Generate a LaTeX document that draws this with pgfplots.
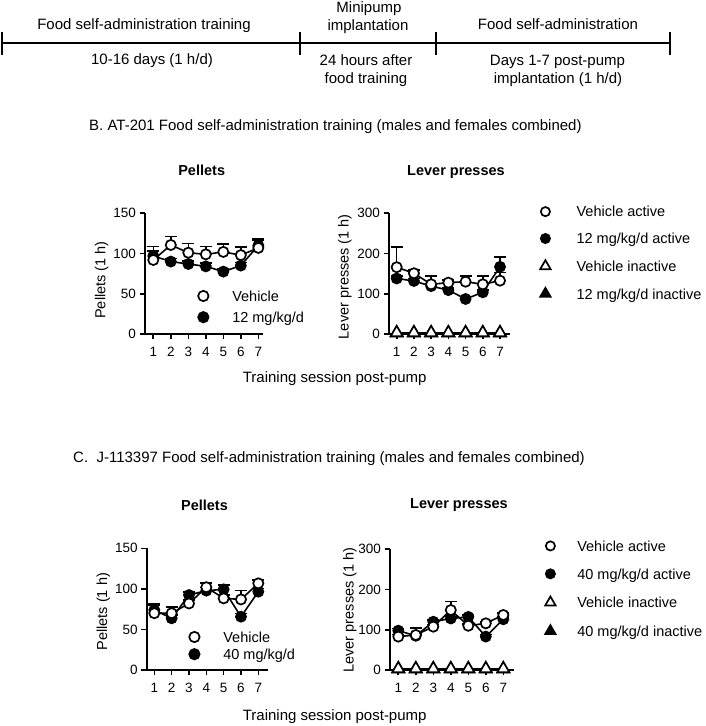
\documentclass[border=0pt]{standalone}
\usepackage{fontspec}
\setmainfont{Liberation Sans}
\usepackage{pgfplots}
\pgfplotsset{compat=1.18}
\newcommand{\fs}[1]{\fontsize{#1}{#1}\selectfont}
\pgfplotsset{
  panel/.style={
    scale only axis, clip=false,
    axis lines*=left, axis line style={line width=1.8pt,-},
    xtick={1,2,3,4,5,6,7},
    tick align=outside, major tick length=5.5pt,
    tick style={line width=1.6pt,black},
    ticklabel style={font=\fs{13.5}},
    xticklabel style={yshift=-4pt},
    /pgf/number format/assume math mode=true,
    ylabel style={font=\fs{14.5}, anchor=center},
    legend cell align=left,
    legend image code/.code={\draw[line width=1.7pt,##1] plot coordinates {(0pt,1.5pt)};},
  },
  ebar/.style={error bars/y dir=plus, error bars/y explicit,
     error bars/error bar style={line width=1.5pt},
     error bars/error mark options={rotate=90, line width=1.6pt, mark size=6pt}},
  wser/.style={black, line width=1.6pt, mark=*, mark size=5.1pt, mark options={fill=white, line width=1.7pt}, ebar},
  bser/.style={black, line width=1.6pt, mark=*, mark size=5.1pt, mark options={fill=black}, ebar},
  wtri/.style={black, line width=1.6pt, mark=triangle*, mark size=7pt, mark options={fill=white, line width=1.7pt}},
  btri/.style={black, line width=1.6pt, mark=triangle*, mark size=7pt, mark options={fill=black}},
}
% ---------------- data ----------------
\pgfplotstableread{
x y e
1 92 16.5
2 110.6 10.4
3 101 11.6
4 99 9.5
5 102 10
6 98 10
7 107 11
}\BPelVeh
\pgfplotstableread{
x y e
1 97 6
2 90 4
3 87 4
4 84 4
5 77.5 4
6 85 4
7 110 6
}\BPelDrug
\pgfplotstableread{
x y e
1 166 49.5
2 151 8
3 123.5 20
4 127.6 6
5 130 14
6 123.5 20
7 132.6 20
}\BLevVeh
\pgfplotstableread{
x y e
1 138 6
2 131.7 6
3 119 6
4 109 6
5 87 6
6 103.6 6
7 167 25
}\BLevDrug
\pgfplotstableread{
x y
1 3
2 3
3 3
4 3
5 3
6 3
7 3
}\BLevVehIn
\pgfplotstableread{
x y
1 2
2 2
3 2
4 2
5 2
6 2
7 2
}\BLevDrugIn
\pgfplotstableread{
x y e
1 70 12
2 70 8
3 82 4
4 102 5.6
5 88.3 4
6 87 11
7 106.8 4
}\CPelVeh
\pgfplotstableread{
x y e
1 74 6
2 63.7 4
3 92.4 4
4 97.8 4
5 99.4 5
6 65.7 4
7 96.5 4
}\CPelDrug
\pgfplotstableread{
x y e
1 83 5
2 87 17
3 107.7 5
4 149 21
5 110 5
6 116 5
7 136.7 5
}\CLevVeh
\pgfplotstableread{
x y e
1 97.8 5
2 85 5
3 120 5
4 128 5
5 132 5
6 83 5
7 126 5
}\CLevDrug
\pgfplotstableread{
x y
1 3
2 3
3 3
4 3
5 3
6 3
7 3
}\CLevVehIn
\pgfplotstableread{
x y
1 2
2 2
3 2
4 2
5 2
6 2
7 2
}\CLevDrugIn
\begin{document}
\begin{tikzpicture}[x=1pt,y=1pt]
\useasboundingbox (0,0) rectangle (706,726);
% ---------- timeline ----------
\draw[line width=2pt] (2,683) -- (670,683);
\foreach \xx in {2,300,436,670} \draw[line width=2pt] (\xx,694) -- (\xx,671);
\node[anchor=base,inner sep=0pt,font=\fs{15}] at (144,696) {Food self-administration training};
\node[anchor=base,inner sep=0pt,font=\fs{15}] at (152,661) {10-16 days (1 h/d)};
\node[anchor=base,inner sep=0pt,font=\fs{15}] at (369,713) {Minipump};
\node[anchor=base,inner sep=0pt,font=\fs{15}] at (368,695) {implantation};
\node[anchor=base,inner sep=0pt,font=\fs{15}] at (366,660) {24 hours after};
\node[anchor=base,inner sep=0pt,font=\fs{15}] at (366,642) {food training};
\node[anchor=base,inner sep=0pt,font=\fs{15}] at (558,696) {Food self-administration};
\node[anchor=base,inner sep=0pt,font=\fs{15}] at (557.5,660) {Days 1-7 post-pump};
\node[anchor=base,inner sep=0pt,font=\fs{15}] at (558,642) {implantation (1 h/d)};
% ---------- section titles ----------
\node[anchor=west,inner sep=0pt,font=\fs{15}] at (89,599) {B. AT-201 Food self-administration training (males and females combined)};
\node[anchor=west,inner sep=0pt,font=\fs{15}] at (73,267.7) {C.\ \ J-113397 Food self-administration training (males and females combined)};
\node[inner sep=0pt,font=\bfseries\fs{14.5}] at (201.7,555.3) {Pellets};
\node[inner sep=0pt,font=\bfseries\fs{14.5}] at (456,554.3) {Lever presses};
\node[inner sep=0pt,font=\bfseries\fs{14.5}] at (204.5,221) {Pellets};
\node[inner sep=0pt,font=\bfseries\fs{14.5}] at (459,221) {Lever presses};
\node[inner sep=0pt,font=\fs{15}] at (334.7,347) {Training session post-pump};
\node[inner sep=0pt,font=\fs{15}] at (334.7,9.3) {Training session post-pump};
% ---------- B pellets ----------
\begin{axis}[panel, at={(145pt,392pt)}, anchor=south west, width=117.7pt, height=120.7pt,
  xmin=0.526, xmax=7.25, ymin=0, ymax=150, ytick={0,50,100,150},
  ylabel={Pellets (1 h)}, ylabel style={at={(axis description cs:-0.368,0.447)}},
  legend style={at={(axis description cs:0.45,0.36)}, anchor=north west, draw=none, fill=none,
    inner sep=0pt, row sep=7.7pt, font=\fs{14.5},
    nodes={inner sep=0pt, text height=10.5pt, text depth=3pt},
    /tikz/every odd column/.append style={column sep=23.7pt}}]
\addplot[forget plot, bser] table[x=x,y=y,y error=e] {\BPelDrug};
\addplot[forget plot, wser] table[x=x,y=y,y error=e] {\BPelVeh};
\addlegendimage{only marks, mark=*, mark size=5.2pt, mark options={fill=white}}
\addlegendentry{Vehicle}
\addlegendimage{only marks, mark=*, mark size=5.2pt, mark options={fill=black}}
\addlegendentry{12 mg/kg/d}
\end{axis}
% ---------- B lever ----------
\begin{axis}[panel, at={(389pt,392pt)}, anchor=south west, width=121pt, height=120.7pt,
  xmin=0.553, xmax=7.58, ymin=0, ymax=300, ytick={0,100,200,300},
  ylabel={Lever presses (1 h)}, ylabel style={at={(axis description cs:-0.364,0.475)}},
  legend style={at={(axis description cs:1.248,1.059)}, anchor=north west, draw=none, fill=none,
    inner sep=0pt, row sep=13.4pt, font=\fs{14.5},
    nodes={inner sep=0pt, text height=10.5pt, text depth=3pt},
    /tikz/every odd column/.append style={column sep=26pt}}]
\addplot[forget plot, bser] table[x=x,y=y,y error=e] {\BLevDrug};
\addplot[forget plot, wser] table[x=x,y=y,y error=e] {\BLevVeh};
\addplot[forget plot, btri] table[x=x,y=y] {\BLevDrugIn};
\addplot[forget plot, wtri] table[x=x,y=y] {\BLevVehIn};
\addlegendimage{only marks, mark=*, mark size=4.6pt, mark options={fill=white}}
\addlegendentry{Vehicle active}
\addlegendimage{only marks, mark=*, mark size=4.6pt, mark options={fill=black}}
\addlegendentry{12 mg/kg/d active}
\addlegendimage{only marks, mark=triangle*, mark size=6pt, mark options={fill=white}}
\addlegendentry{Vehicle inactive}
\addlegendimage{only marks, mark=triangle*, mark size=6pt, mark options={fill=black}}
\addlegendentry{12 mg/kg/d inactive}
\end{axis}
% ---------- C pellets ----------
\begin{axis}[panel, at={(146.7pt,56pt)}, anchor=south west, width=121.6pt, height=121.7pt,
  xmin=0.561, xmax=7.577, ymin=0, ymax=150, ytick={0,50,100,150},
  ylabel={Pellets (1 h)}, ylabel style={at={(axis description cs:-0.357,0.479)}},
  legend style={at={(axis description cs:0.348,0.316)}, anchor=north west, draw=none, fill=none,
    inner sep=0pt, row sep=3.7pt, font=\fs{14.5},
    nodes={inner sep=0pt, text height=10.5pt, text depth=3pt},
    /tikz/every odd column/.append style={column sep=23.7pt}}]
\addplot[forget plot, bser] table[x=x,y=y,y error=e] {\CPelDrug};
\addplot[forget plot, wser] table[x=x,y=y,y error=e] {\CPelVeh};
\addlegendimage{only marks, mark=*, mark size=5.2pt, mark options={fill=white}}
\addlegendentry{Vehicle}
\addlegendimage{only marks, mark=*, mark size=5.2pt, mark options={fill=black}}
\addlegendentry{40 mg/kg/d}
\end{axis}
% ---------- C lever ----------
\begin{axis}[panel, at={(390pt,56pt)}, anchor=south west, width=124pt, height=120.7pt,
  xmin=0.526, xmax=7.611, ymin=0, ymax=300, ytick={0,100,200,300},
  ylabel={Lever presses (1 h)}, ylabel style={at={(axis description cs:-0.323,0.497)}},
  legend style={at={(axis description cs:1.25,1.073)}, anchor=north west, draw=none, fill=none,
    inner sep=0pt, row sep=14.4pt, font=\fs{14.5},
    nodes={inner sep=0pt, text height=10.5pt, text depth=3pt},
    /tikz/every odd column/.append style={column sep=21.7pt}}]
\addplot[forget plot, bser] table[x=x,y=y,y error=e] {\CLevDrug};
\addplot[forget plot, wser] table[x=x,y=y,y error=e] {\CLevVeh};
\addplot[forget plot, btri] table[x=x,y=y] {\CLevDrugIn};
\addplot[forget plot, wtri] table[x=x,y=y] {\CLevVehIn};
\addlegendimage{only marks, mark=*, mark size=4.6pt, mark options={fill=white}}
\addlegendentry{Vehicle active}
\addlegendimage{only marks, mark=*, mark size=4.6pt, mark options={fill=black}}
\addlegendentry{40 mg/kg/d active}
\addlegendimage{only marks, mark=triangle*, mark size=6pt, mark options={fill=white}}
\addlegendentry{Vehicle inactive}
\addlegendimage{only marks, mark=triangle*, mark size=6pt, mark options={fill=black}}
\addlegendentry{40 mg/kg/d inactive}
\end{axis}
\end{tikzpicture}
\end{document}
